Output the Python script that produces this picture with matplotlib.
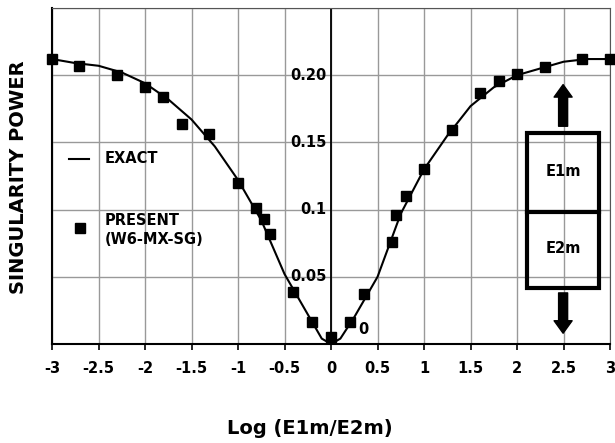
import matplotlib.pyplot as plt
import numpy as np

plt.rcParams['font.family'] = ['DejaVu Sans']
plt.rcParams['font.weight'] = 'bold'

# exact solution curve
exact_x = [-3, -2.75, -2.5, -2.25, -2, -1.75, -1.5, -1.25, -1, -0.75, -0.5, -0.25, -0.1,
           0, 0.1, 0.25, 0.5, 0.75, 1, 1.25, 1.5, 1.75, 2, 2.25, 2.5, 2.75, 3]
exact_y = [0.212, 0.209, 0.207, 0.202, 0.194, 0.182, 0.167, 0.147, 0.122, 0.092, 0.052, 0.022, 0.004,
           0.0, 0.004, 0.020, 0.050, 0.097, 0.130, 0.155, 0.177, 0.191, 0.200, 0.205, 0.210, 0.212, 0.212]

# present method (W6-MX-SG)
present_x = [-3, -2.71, -2.3, -2.0, -1.81, -1.6, -1.31, -1.0, -0.81, -0.72, -0.66, -0.41, -0.2,
             0, 0.2, 0.35, 0.65, 0.7, 0.81, 1.0, 1.3, 1.6, 1.81, 2.0, 2.3, 2.7, 3.0]
present_y = [0.212, 0.207, 0.200, 0.191, 0.184, 0.164, 0.156, 0.120, 0.101, 0.093, 0.082, 0.039, 0.016,
             0.005, 0.016, 0.037, 0.076, 0.096, 0.110, 0.130, 0.159, 0.187, 0.196, 0.201, 0.206, 0.212, 0.212]

xticks = [-3, -2.5, -2, -1.5, -1, -0.5, 0, 0.5, 1, 1.5, 2, 2.5, 3]
xtick_labels = ["-3", "-2.5", "-2", "-1.5", "-1", "-0.5", "0", "0.5", "1", "1.5", "2", "2.5", "3"]
yticks = [0, 0.05, 0.1, 0.15, 0.20]
ytick_labels = ["0", "0.05", "0.1", "0.15", "0.20"]

fig = plt.figure(figsize=(6.15, 4.43), dpi=100)
ax = fig.add_axes([0.0846, 0.2235, 0.9074, 0.7585])

ax.plot(exact_x, exact_y, color='black', lw=1.5, zorder=3)
ax.plot(present_x, present_y, 's', color='black', ms=7, zorder=4, clip_on=False)

ax.set_xlim(-3, 3)
ax.set_ylim(0, 0.25)
ax.set_xticks(xticks)
ax.set_xticklabels(xtick_labels, fontsize=10.5, fontweight='bold')
ax.set_yticks(yticks + [0.25])
ax.tick_params(axis='y', left=False, labelleft=False)
ax.tick_params(axis='x', length=4, width=1.2, pad=8)
ax.grid(color='#999999', lw=1)
ax.set_axisbelow(True)

for s in ['left', 'bottom']:
    ax.spines[s].set_linewidth(1.5)
for s in ['top', 'right']:
    ax.spines[s].set_color('#555555')

# centre axis with its labels
ax.axvline(0, color='black', lw=1.3, zorder=2)
for v, lab in zip(yticks[1:], ytick_labels[1:]):
    ax.text(-0.05, v, lab, ha='right', va='center', fontsize=10.5, fontweight='bold')
ax.text(0.35, 0.0105, ytick_labels[0], ha='center', va='center', fontsize=10.5, fontweight='bold')

# legend
ax.plot([-2.82, -2.6], [0.138, 0.138], color='black', lw=1.5)
ax.text(-2.43, 0.138, "EXACT", ha='left', va='center', fontsize=10.5, fontweight='bold')
ax.plot([-2.7], [0.086], 's', color='black', ms=7)
ax.text(-2.43, 0.085, "PRESENT\n(W6-MX-SG)", ha='left', va='center', fontsize=10.5,
        fontweight='bold', linespacing=1.35)

# schematic box
ax.add_patch(plt.Rectangle((2.11, 0.042), 0.77, 0.115, fill=False, lw=3, ec='black', zorder=5))
ax.plot([2.11, 2.88], [0.098, 0.098], color='black', lw=3, zorder=5)
ax.text(2.495, 0.128, "E1m", ha='center', va='center', fontsize=10.5, fontweight='bold')
ax.text(2.495, 0.071, "E2m", ha='center', va='center', fontsize=10.5, fontweight='bold')
arrow = dict(width=6.5, headwidth=13, headlength=9, color='black', shrink=0)
ax.annotate("", xy=(2.495, 0.193), xytext=(2.495, 0.162), arrowprops=arrow)
ax.annotate("", xy=(2.495, 0.008), xytext=(2.495, 0.038), arrowprops=arrow)

fig.text(0.03, 0.60, "SINGULARITY POWER", rotation=90, ha='center', va='center',
         fontsize=14, fontweight='bold')
fig.text(0.504, 0.032, "Log (E1m/E2m)", ha='center', va='center', fontsize=14, fontweight='bold')

fig.savefig("out.png", dpi=100)
